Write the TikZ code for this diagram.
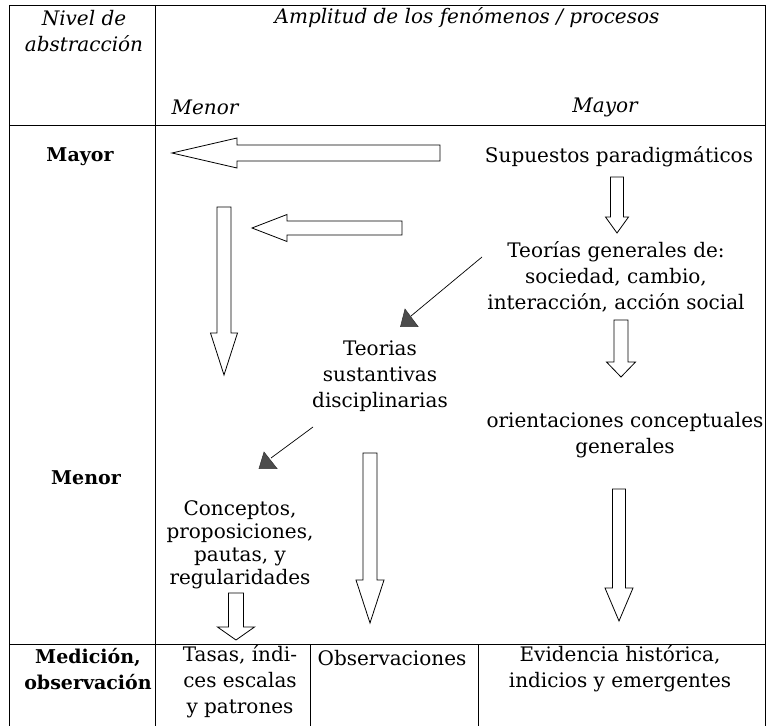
\documentclass[tikz,border=0pt]{standalone}
\usepackage{fontspec}
\setmainfont{DejaVu Serif}
\tikzset{
  frame/.style={draw=black, line width=0.9bp},
  blk/.style={draw=black, fill=white, line width=0.8bp, line join=miter},
  diag/.style={draw=black, line width=0.7bp},
  tri/.style={draw=black!80, fill=black!70, line width=0.5bp},
  txt/.style={inner sep=0pt, align=center, font=\fontsize{20bp}{26bp}\selectfont},
  itx/.style={inner sep=0pt, align=center, font=\fontsize{20bp}{26bp}\selectfont\itshape},
  bld/.style={inner sep=0pt, align=center, font=\fontsize{19bp}{25.5bp}\selectfont\bfseries}
}
% y, tail x, head-base x, tip x, shaft half, head half
\newcommand\BlkLeft[6]{%
  \draw[blk] (#2,#1-#5) -- (#3,#1-#5) -- (#3,#1-#6) -- (#4,#1) -- (#3,#1+#6) -- (#3,#1+#5) -- (#2,#1+#5) -- cycle;}
% x, top y, head-base y, tip y, shaft half, head half
\newcommand\BlkDown[6]{%
  \draw[blk] (#1-#5,#2) -- (#1+#5,#2) -- (#1+#5,#3) -- (#1+#6,#3) -- (#1,#4) -- (#1-#6,#3) -- (#1-#5,#3) -- cycle;}
\begin{document}
\begin{tikzpicture}[x=1bp,y=-1bp]
\useasboundingbox (0,0) rectangle (767,726);
\fill[white] (0,0) rectangle (767,726);
% table frame
\draw[frame] (9,5) -- (765,5);
\draw[frame] (9,5) -- (9,726);
\draw[frame] (765,5) -- (765,726);
\draw[frame] (155,5) -- (155,726);
\draw[frame] (9,125) -- (765,125);
\draw[frame] (9,644) -- (765,644);
\draw[frame] (310,644) -- (310,726);
\draw[frame] (478,644) -- (478,726);
% header texts
\node[itx] (nivel) at (84,31) {Nivel de\\abstracción};
\node[itx] (amplitud) at (467,18) {Amplitud de los fenómenos / procesos};
\node[itx] (menorI) at (205,107) {Menor};
\node[itx] (mayorI) at (605,107) {Mayor};
% left column
\node[bld] (mayorB) at (80,157) {Mayor};
\node[bld] (menorB) at (86,478) {Menor};
\node[bld] (medicion) at (88,669) {Medición,\\observación};
% body texts
\node[txt] (supuestos) at (619,157) {Supuestos paradigmáticos};
\node[txt] (teoriasG) at (616,277) {Teorías generales de:\\sociedad, cambio,\\interacción, acción social};
\node[txt] (teoriasS) at (380,376) {Teorias\\sustantivas\\disciplinarias};
\node[txt] (orient) at (625,435) {orientaciones conceptuales\\generales};
\node[txt, font=\fontsize{20bp}{23bp}\selectfont] (conceptos) at (240,545) {Conceptos,\\proposiciones,\\pautas, y\\regularidades};
\node[txt] (tasas) at (240,682) {Tasas, índi-\\ces escalas\\y patrones};
\node[txt] (observ) at (392,658) {Observaciones};
\node[txt] (evid) at (620,669) {Evidencia histórica,\\indicios y emergentes};
% block arrows
\BlkLeft{153}{440}{237}{172}{8}{15}
\BlkLeft{228}{402}{287}{252}{7}{13.5}
\BlkDown{224}{207}{333}{375}{7}{13.5}
\BlkDown{617}{177}{217}{233}{6.5}{11.5}
\BlkDown{621}{320}{362}{377}{7}{14.5}
\BlkDown{370}{453}{580}{623}{7}{14}
\BlkDown{619}{489}{588}{621}{6.5}{14}
\BlkDown{236}{593}{627}{640}{7.5}{18.5}
% diagonal arrows
\coordinate (d1s) at (482,257);
\coordinate (d1e) at (411,316);
\draw[diag] (d1s) -- (d1e);
\draw[tri] (405,309) -- (400.5,326.5) -- (418,326.5) -- cycle;
\coordinate (d2s) at (313,427);
\coordinate (d2e) at (271,458);
\draw[diag] (d2s) -- (d2e);
\draw[tri] (264,452) -- (259,468.5) -- (277,468.5) -- cycle;
\end{tikzpicture}
\end{document}
